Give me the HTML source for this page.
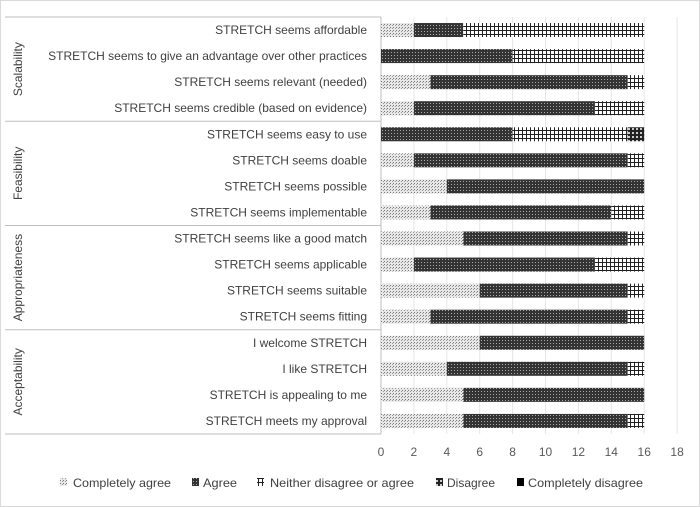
<!DOCTYPE html>
<html><head><meta charset="utf-8"><style>
body{margin:0;background:#fff;}
svg{display:block;font-family:"Liberation Sans",sans-serif;}
</style></head><body>
<svg width="700" height="507">
<defs>
<pattern id="pCA" width="3" height="3" patternUnits="userSpaceOnUse"><rect width="3" height="3" fill="#e8e8e8"/><rect width="1" height="1" fill="#777"/><rect x="2" y="1" width="1" height="1" fill="#999"/></pattern>
<pattern id="pA" width="3" height="3" patternUnits="userSpaceOnUse"><rect width="3" height="3" fill="#333"/><rect x="1" y="1" width="1" height="1" fill="#aaa"/></pattern>
<pattern id="pN" width="4" height="4" patternUnits="userSpaceOnUse"><rect width="4" height="4" fill="#fff"/><rect x="2" width="1" height="4" fill="#222"/><rect y="2" width="4" height="1" fill="#222"/></pattern>
<pattern id="pD" width="4" height="4" patternUnits="userSpaceOnUse"><rect width="4" height="4" fill="#222"/><rect width="2" height="2" fill="#ccc"/></pattern>
<pattern id="pCD" width="4" height="4" patternUnits="userSpaceOnUse"><rect width="4" height="4" fill="#000"/></pattern>
</defs>
<rect x="0.5" y="0.5" width="699" height="506" fill="#fff" stroke="#d9d9d9"/>
<g id="grid"></g><g id="bars"></g><g id="labels"></g><g id="xticks"></g><g id="groups"></g><g id="legend"></g>
</svg>
<script>
const categories=["STRETCH seems affordable","STRETCH seems to give an advantage over other practices","STRETCH seems relevant (needed)","STRETCH seems credible (based on evidence)","STRETCH seems easy to use","STRETCH seems doable","STRETCH seems possible","STRETCH seems implementable","STRETCH seems like a good match","STRETCH seems applicable","STRETCH seems suitable","STRETCH seems fitting","I welcome STRETCH","I like STRETCH","STRETCH is appealing to me","STRETCH meets my approval"];
const completelyAgree=[2,0,3,2,0,2,4,3,5,2,6,3,6,4,5,5];
const agree=[3,8,12,11,8,13,12,11,10,11,9,12,10,11,11,10];
const neither=[11,8,1,3,7,1,0,2,1,3,1,1,0,1,0,1];
const disagree=[0,0,0,0,1,0,0,0,0,0,0,0,0,0,0,0];
const completelyDisagree=[0,0,0,0,0,0,0,0,0,0,0,0,0,0,0,0];
const xTicks=[0,2,4,6,8,10,12,14,16,18];
const groups=["Scalability","Feasibility","Appropriateness","Acceptability"];
const seriesNames=["Completely agree","Agree","Neither disagree or agree","Disagree","Completely disagree"];
const NS="http://www.w3.org/2000/svg";
const X0=381,UNIT=16.45,TOP=17,ROWH=26.06;
const x=v=>X0+v*UNIT;
const y=i=>TOP+ROWH*i+ROWH/2;
function mk(t,a,p){const e=document.createElementNS(NS,t);for(const k in a)e.setAttribute(k,a[k]);p.appendChild(e);return e;}
const G=id=>document.getElementById(id);
xTicks.forEach(t=>{
 const l=mk('line',{x1:x(t),x2:x(t),y1:TOP,y2:TOP+ROWH*16,stroke:t===0?'#bfbfbf':'#e6e6e6'},G('grid'));
 
 
 const tx=mk('text',{x:x(t),y:456,'text-anchor':'middle','font-size':12,fill:'#595959'},G('xticks'));tx.textContent=t;
 
 
});
const series=[completelyAgree,agree,neither,disagree,completelyDisagree];
const pats=['pCA','pA','pN','pD','pCD'];
categories.forEach((c,i)=>{
 let acc=0;
 series.forEach((s,k)=>{
  if(s[i]>0){const r=mk('rect',{x:x(acc),y:y(i)-7,width:s[i]*UNIT,height:14,fill:'url(#'+pats[k]+')'},G('bars'));
   
   }
  acc+=s[i];
 });
 const t=mk('text',{x:367,y:y(i)+4,'text-anchor':'end','font-size':12,fill:'#404040'},G('labels'));t.textContent=c;
 
 
});
for(let g=0;g<=4;g++){const l=mk('line',{x1:5,x2:X0,y1:TOP+ROWH*4*g,y2:TOP+ROWH*4*g,stroke:'#bfbfbf'},G('groups'));
 
 }
groups.forEach((n,g)=>{const cy=TOP+ROWH*4*g+ROWH*2;
 const t=mk('text',{x:22,y:cy,'text-anchor':'middle','font-size':12,fill:'#404040',transform:'rotate(-90 22 '+cy+')'},G('groups'));t.textContent=n;
 
 });
const lx=[60,192,257,436,517];
const tx0=[73,203,270,447,528];
const lw=[98,34,144,48,115];
seriesNames.forEach((n,k)=>{
 const r=mk('rect',{x:lx[k],y:478,width:7,height:8,fill:'url(#'+pats[k]+')'},G('legend'));
 
 
 const t=mk('text',{x:tx0[k],y:487,'font-size':12,fill:'#404040',textLength:lw[k],lengthAdjust:'spacingAndGlyphs'},G('legend'));t.textContent=n;
 
 
});
</script>
</body></html>
